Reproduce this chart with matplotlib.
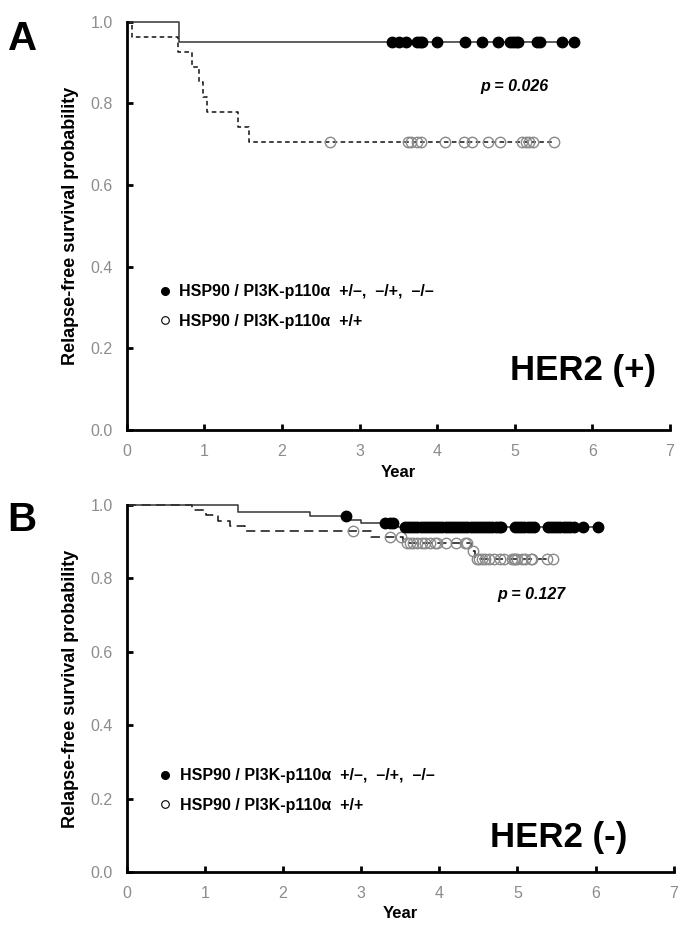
import numpy as np
import matplotlib.pyplot as plt
from matplotlib.lines import Line2D

SANS = ['Liberation Sans', 'DejaVu Sans']

# ---- panel A : HER2 (+) ----
a_solid_t = [0.0, 0.67]
a_solid_s = [1.0, 0.95]
a_solid_cens = [3.42, 3.51, 3.60, 3.74, 3.78, 3.81, 4.00, 4.36, 4.58, 4.79,
                4.94, 4.98, 5.01, 5.04, 5.29, 5.32, 5.61, 5.76]
a_dash_t = [0.0, 0.07, 0.66, 0.84, 0.93, 0.98, 1.03, 1.44, 1.57]
a_dash_s = [1.0, 0.963, 0.926, 0.889, 0.852, 0.815, 0.778, 0.741, 0.704]
a_dash_cens = [2.62, 3.62, 3.66, 3.74, 3.79, 4.10, 4.34, 4.45, 4.66, 4.81,
               5.10, 5.14, 5.19, 5.24, 5.50]

# ---- panel B : HER2 (-) ----
b_solid_t = [0.0, 1.42, 2.35, 2.86, 3.00, 3.47]
b_solid_s = [1.0, 0.982, 0.971, 0.959, 0.950, 0.941]
b_solid_cens = [2.81, 3.31, 3.37, 3.41,
                3.56, 3.60, 3.64, 3.68, 3.72, 3.76, 3.80, 3.84, 3.88, 3.92,
                3.96, 4.00, 4.04, 4.08, 4.12, 4.16, 4.20, 4.24, 4.28, 4.32,
                4.36, 4.40, 4.44, 4.48, 4.52, 4.56, 4.60, 4.64, 4.68, 4.72,
                4.76, 4.79,
                4.97, 5.01, 5.05, 5.09, 5.13, 5.17, 5.21,
                5.39, 5.43, 5.47, 5.51, 5.55, 5.59, 5.63, 5.67, 5.72,
                5.84, 6.03]
b_dash_t = [0.0, 0.83, 1.01, 1.17, 1.32, 1.51, 3.12, 3.54, 4.41, 4.46]
b_dash_s = [1.0, 0.986, 0.972, 0.957, 0.943, 0.929, 0.913, 0.897, 0.875, 0.852]
b_dash_cens = [2.90, 3.37, 3.51, 3.59, 3.63, 3.67, 3.71, 3.78, 3.82, 3.88,
               3.95, 3.97, 4.08, 4.21, 4.33, 4.36, 4.43,
               4.48, 4.51, 4.55, 4.59, 4.63, 4.70, 4.78, 4.83, 4.93, 4.95,
               4.97, 4.99, 5.06, 5.10, 5.17, 5.19, 5.38, 5.45]

legend_labels = ['HSP90 / PI3K-p110\u03b1  +/\u2013,  \u2013/+,  \u2013/\u2013',
                 'HSP90 / PI3K-p110\u03b1  +/+']
xticks = [0, 1, 2, 3, 4, 5, 6, 7]
yticks = [0.0, 0.2, 0.4, 0.6, 0.8, 1.0]


def level_at(times, surv, t):
    idx = np.searchsorted(times, t, side='right') - 1
    return np.array(surv)[idx]


def km(ax, times, surv, cens, dashes, lcolor, filled):
    end = max(cens)
    x = list(times) + [end]
    y = list(surv) + [surv[-1]]
    line, = ax.step(x, y, where='post', color=lcolor, lw=1.1, clip_on=False, zorder=2)
    if dashes is not None:
        line.set_dashes(dashes)
    cy = level_at(times, surv, np.array(cens))
    if filled:
        ax.plot(cens, cy, 'o', ms=7.5, mfc='black', mec='black', ls='none', clip_on=False, zorder=3)
    else:
        ax.plot(cens, cy, 'o', ms=7.5, mfc='none', mec='#8a8a8a', mew=1.0, ls='none', clip_on=False, zorder=3)


def style(ax, letter, tag, ptxt, pxy, leg_anchor, tag_xy):
    ax.set_xlim(0, 7)
    ax.set_ylim(0, 1.0)
    for s in ['top', 'right']:
        ax.spines[s].set_visible(False)
    for s in ['left', 'bottom']:
        ax.spines[s].set_linewidth(2.0)
    ax.set_xticks(xticks)
    ax.set_yticks(yticks)
    ax.set_xticklabels([str(v) for v in xticks])
    ax.set_yticklabels(['%.1f' % v for v in yticks])
    ax.tick_params(direction='in', length=4, width=2, colors='black',
                   labelcolor='#8c8c8c', labelsize=11.5, pad=10)
    for lab in ax.get_xticklabels() + ax.get_yticklabels():
        lab.set_family(SANS)
    ax.set_xlabel('Year', family=SANS, fontweight='bold', fontsize=12, labelpad=4)
    ax.set_ylabel('Relapse-free survival probability', family=SANS,
                  fontweight='bold', fontsize=13, labelpad=8)
    ax.text(pxy[0], pxy[1], ptxt, family=SANS, fontweight='bold', style='italic',
            fontsize=11.5, ha='center', va='center')
    ax.text(tag_xy[0], tag_xy[1], tag, family=SANS, fontweight='bold',
            fontsize=25, ha='center', va='center', transform=ax.transAxes)
    ax.text(-0.219, 0.958, letter, family=SANS,
            fontweight='bold', fontsize=29, ha='left', va='center', transform=ax.transAxes)
    handles = [Line2D([], [], marker='o', ls='none', ms=5.5, mfc='black', mec='black'),
               Line2D([], [], marker='o', ls='none', ms=5.5, mfc='white', mec='black', mew=0.8)]
    ax.legend(handles, legend_labels, loc='upper left', bbox_to_anchor=leg_anchor,
              frameon=False, handlelength=0.6, handletextpad=0.6,
              labelspacing=0.9, borderaxespad=0,
              prop={'family': SANS, 'weight': 'bold', 'size': 11.5})


fig = plt.figure(figsize=(6.85, 9.35), dpi=100, facecolor='white')
axA = fig.add_axes([0.185, 0.540, 0.793, 0.437])
axB = fig.add_axes([0.185, 0.0674, 0.7985, 0.3925])

km(axA, a_dash_t, a_dash_s, a_dash_cens, (3.0, 2.2), '#111111', False)
km(axA, a_solid_t, a_solid_s, a_solid_cens, None, '#333333', True)
style(axA, 'A', 'HER2 (+)', 'p = 0.026', (4.99, 0.84), (0.05, 0.372), (0.84, 0.147))

km(axB, b_dash_t, b_dash_s, b_dash_cens, (6.0, 3.5), '#111111', False)
km(axB, b_solid_t, b_solid_s, b_solid_cens, None, '#333333', True)
style(axB, 'B', 'HER2 (-)', 'p = 0.127', (5.18, 0.755), (0.05, 0.30), (0.79, 0.095))

fig.savefig('out.png', dpi=100, facecolor='white')
